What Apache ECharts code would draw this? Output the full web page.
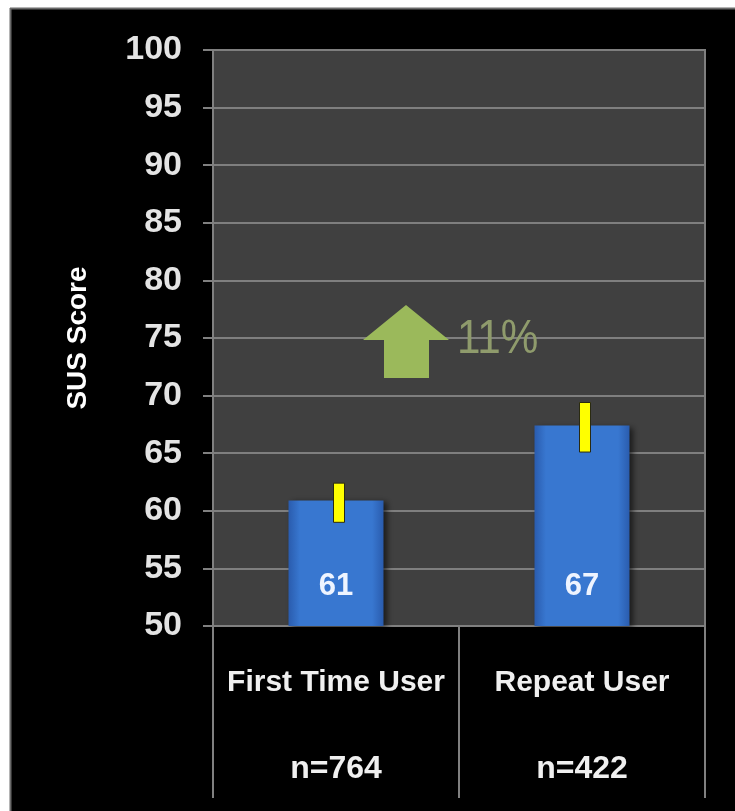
<!DOCTYPE html>
<html>
<head>
<meta charset="utf-8">
<style>
html,body{margin:0;padding:0;background:#fff;}
#chart{width:735px;height:811px;}
</style>
<script src="https://cdn.jsdelivr.net/npm/echarts@6/dist/echarts.min.js"></script>
</head>
<body>
<div id="chart"></div>
<script>
// ---- data ----
var categories = ['First Time User', 'Repeat User'];
var sampleSizes = ['n=764', 'n=422'];
var susScores = [60.9, 67.4];
var errLow = [59.0, 65.1];
var errHigh = [62.4, 69.4];
var changeLabel = '11%';
var yTicks = [50, 55, 60, 65, 70, 75, 80, 85, 90, 95, 100];

var chart = echarts.init(document.getElementById('chart'), null, {renderer: 'canvas'});

var option = {
  backgroundColor: '#000000',
  animation: false,
  grid: {
    left: 213, right: 30, top: 50, bottom: 185,
    show: true,
    backgroundColor: '#404040',
    borderColor: '#7f7f7f',
    borderWidth: 2
  },
  xAxis: {
    type: 'category',
    data: categories,
    axisLine: {show: true, lineStyle: {color: '#808080', width: 2}},
    axisTick: {show: true, length: 172, interval: 0, lineStyle: {color: '#808080', width: 2}},
    axisLabel: {
      interval: 0,
      margin: 14,
      formatter: function (v, i) {
        return '{a|' + v + '}\n{b|' + sampleSizes[i] + '}';
      },
      rich: {
        a: {fontFamily: 'Liberation Sans', fontWeight: 'bold', fontSize: 30, color: '#f0f0f0', lineHeight: 86},
        b: {fontFamily: 'Liberation Sans', fontWeight: 'bold', fontSize: 32, color: '#f0f0f0', lineHeight: 86}
      }
    },
    splitLine: {show: false}
  },
  yAxis: {
    type: 'value',
    min: 50, max: 100, interval: 5,
    name: 'SUS Score',
    nameLocation: 'middle',
    nameRotate: 90,
    nameGap: 121,
    nameTextStyle: {fontFamily: 'Liberation Sans', fontWeight: 'bold', fontSize: 28, color: '#ffffff'},
    axisLine: {show: true, lineStyle: {color: '#808080', width: 2}},
    axisTick: {show: true, length: 10, lineStyle: {color: '#808080', width: 2}},
    axisLabel: {
      margin: 31,
      fontFamily: 'Liberation Sans', fontWeight: 'bold', fontSize: 34, color: '#e4e4e4',
      formatter: function (v) { return yTicks.indexOf(v) >= 0 ? String(v) : ''; }
    },
    splitLine: {show: true, lineStyle: {color: '#7f7f7f', width: 2}}
  },
  series: [
    {
      type: 'bar',
      data: susScores,
      barWidth: 95,
      itemStyle: {
        color: new echarts.graphic.LinearGradient(0, 0, 1, 0, [
          {offset: 0, color: '#2a5cae'},
          {offset: 0.12, color: '#3877d0'},
          {offset: 0.88, color: '#3877d0'},
          {offset: 1, color: '#2a5cae'}
        ]),
        shadowBlur: 6,
        shadowColor: 'rgba(0,0,0,0.6)',
        shadowOffsetX: 3,
        shadowOffsetY: 2
      },
      label: {
        show: true,
        position: 'insideBottom',
        distance: 24,
        formatter: function (p) { return String(Math.round(p.value)); },
        fontFamily: 'Liberation Sans', fontWeight: 'bold', fontSize: 31, color: '#eef4ff'
      },
      z: 2
    },
    {
      type: 'custom',
      z: 5,
      data: categories.map(function (c, i) { return [i, errLow[i], errHigh[i]]; }),
      renderItem: function (params, api) {
        var lo = api.coord([api.value(0), api.value(1)]);
        var hi = api.coord([api.value(0), api.value(2)]);
        var w = 11;
        return {
          type: 'rect',
          shape: {x: lo[0] - w / 2 + 3, y: hi[1], width: w, height: lo[1] - hi[1]},
          style: {fill: '#ffff00', stroke: '#2a2a10', lineWidth: 1}
        };
      }
    }
  ],
  graphic: [
    {type: 'rect', shape: {x: 0, y: 0, width: 735, height: 8}, style: {fill: '#ffffff'}, z: 100},
    {type: 'rect', shape: {x: 0, y: 0, width: 10, height: 811}, style: {fill: '#ffffff'}, z: 100},
    {type: 'line', shape: {x1: 10, y1: 8.5, x2: 735, y2: 8.5}, style: {stroke: '#6a6a6a', lineWidth: 2}, z: 100},
    {type: 'line', shape: {x1: 10.5, y1: 8, x2: 10.5, y2: 811}, style: {stroke: '#6a6a6a', lineWidth: 2}, z: 100},
    {
      type: 'polygon',
      shape: {points: [[406, 305], [449, 340], [429, 340], [429, 378], [384, 378], [384, 340], [363, 340]]},
      style: {fill: '#9bb95b'},
      z: 50
    },
    {
      type: 'text',
      x: 457, y: 340,
      scaleX: 0.88,
      style: {
        text: changeLabel,
        fontFamily: 'Liberation Sans', fontSize: 48,
        fill: '#8f9b6c',
        textVerticalAlign: 'middle'
      },
      z: 50
    }
  ]
};
chart.setOption(option);
</script>
</body>
</html>
